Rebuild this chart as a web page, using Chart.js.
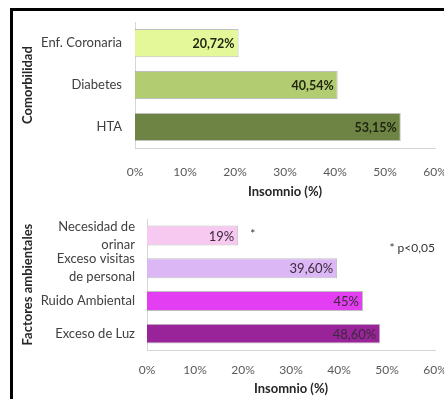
<!DOCTYPE html>
<html>
<head>
<meta charset="utf-8">
<script src="https://cdn.jsdelivr.net/npm/chart.js@4"></script>
<style>
  html, body { margin: 0; padding: 0; background: #fff; width: 444px; height: 399px; overflow: hidden; }
  #frame { position: absolute; left: 10px; top: 8px; width: 600px; height: 600px;
           border-left: 3px solid #000; border-top: 3px solid #000; }
  canvas { position: absolute; left: 0; }
  #top { top: 0; }
  #bottom { top: 198px; }
</style>
</head>
<body>
<div id="frame"></div>
<canvas id="top" width="480" height="200" style="width:480px;height:200px"></canvas>
<canvas id="bottom" width="480" height="201" style="width:480px;height:201px"></canvas>
<script>
// comorbidity panel
const comorbLabels = ['Enf. Coronaria', 'Diabetes', 'HTA'];
const comorbValues = [20.72, 40.54, 53.15];
const comorbText = ['20,72%', '40,54%', '53,15%'];
const comorbColors = ['#e4f89a', '#b2cc72', '#6e8444'];

// environmental factors panel
const envLabels = [['Necesidad de', 'orinar'], ['Exceso visitas', 'de personal'], 'Ruido Ambiental', 'Exceso de Luz'];
const envValues = [19, 39.6, 45, 48.6];
const envText = ['19%', '39,60%', '45%', '48,60%'];
const envColors = ['#f7c8f0', '#dbb7f5', '#e43ef2', '#992399'];

const xTicks = [0, 10, 20, 30, 40, 50, 60];

const FONT = 'Lato, "Open Sans", sans-serif';
Chart.defaults.font.family = FONT;

// value labels drawn inside the end of each bar
const valueLabels = {
  id: 'valueLabels',
  afterDatasetsDraw(chart, args, opts) {
    const ctx = chart.ctx;
    const meta = chart.getDatasetMeta(0);
    ctx.save();
    ctx.font = opts.font;
    ctx.fillStyle = opts.color;
    ctx.textAlign = 'right';
    ctx.textBaseline = 'middle';
    meta.data.forEach((bar, i) => {
      ctx.fillText(opts.texts[i], bar.x - 4, bar.y + 1);
    });
    ctx.restore();
  }
};

// significance notes
const notes = {
  id: 'notes',
  afterDraw(chart, args, opts) {
    if (!opts.items) return;
    const ctx = chart.ctx;
    const xs = chart.scales.x, ys = chart.scales.y;
    ctx.save();
    ctx.font = '12px ' + FONT;
    ctx.fillStyle = '#333';
    ctx.textAlign = 'left';
    ctx.textBaseline = 'middle';
    opts.items.forEach(n => {
      ctx.fillText(n.text, xs.getPixelForValue(n.x), ys.getPixelForValue(n.y));
    });
    ctx.restore();
  }
};

function makeChart(id, labels, values, colors, texts, cfg) {
  new Chart(document.getElementById(id), {
    type: 'bar',
    data: {
      labels: labels,
      datasets: [{
        data: values,
        backgroundColor: colors,
        borderColor: 'rgba(140,140,140,0.55)',
        borderWidth: 1,
        barPercentage: cfg.bar,
        categoryPercentage: 1
      }]
    },
    options: {
      indexAxis: 'y',
      responsive: false,
      animation: false,
      layout: { padding: { left: 20, top: cfg.top, right: 45, bottom: 0 } },
      plugins: {
        legend: { display: false },
        tooltip: { enabled: false },
        valueLabels: { texts: texts, font: cfg.valueFont, color: cfg.valueColor },
        notes: { items: cfg.notes }
      },
      scales: {
        x: {
          min: 0, max: 60,
          afterFit: s => { s.height = cfg.xHeight; },
          afterBuildTicks: s => { s.ticks = xTicks.map(v => ({ value: v })); },
          grid: { display: false, drawTicks: false },
          border: { display: true, color: '#d6d6d6', width: 1 },
          ticks: { padding: cfg.xPad, color: '#595959', font: { size: 12 }, callback: v => v + '%' },
          title: { display: true, text: 'Insomnio (%)', color: '#262626',
                   font: { size: 13, weight: 'bold' }, padding: { top: 0, bottom: cfg.titlePad } }
        },
        y: {
          afterFit: s => { s.width = cfg.yWidth; },
          grid: { display: false, drawTicks: false },
          border: { display: true, color: '#d6d6d6', width: 1 },
          ticks: { autoSkip: false, padding: cfg.yPad, color: '#404040', font: { size: 13, lineHeight: 1.4 } },
          title: { display: true, text: cfg.yTitle, color: '#262626',
                   font: { size: 13, weight: 'bold' }, padding: 0 }
        }
      }
    },
    plugins: [valueLabels, notes]
  });
}

makeChart('top', comorbLabels, comorbValues, comorbColors, comorbText, {
  top: 18, xHeight: 52, yWidth: 115, xPad: 17, yPad: 13, titlePad: 0, bar: 0.67,
  yTitle: 'Comorbilidad', valueFont: 'bold 12.5px ' + FONT, valueColor: '#1e2410', notes: null
});

makeChart('bottom', envLabels, envValues, envColors, envText, {
  top: 4, xHeight: 49, yWidth: 127, xPad: 13, yPad: 12, titlePad: 2, bar: 0.61,
  yTitle: 'Factores ambientales', valueFont: '13px ' + FONT, valueColor: '#3c2a3c',
  notes: [{ x: 21.5, y: -0.05, text: '*' }, { x: 50.5, y: 0.4, text: '* p<0,05' }]
});
</script>
</body>
</html>
